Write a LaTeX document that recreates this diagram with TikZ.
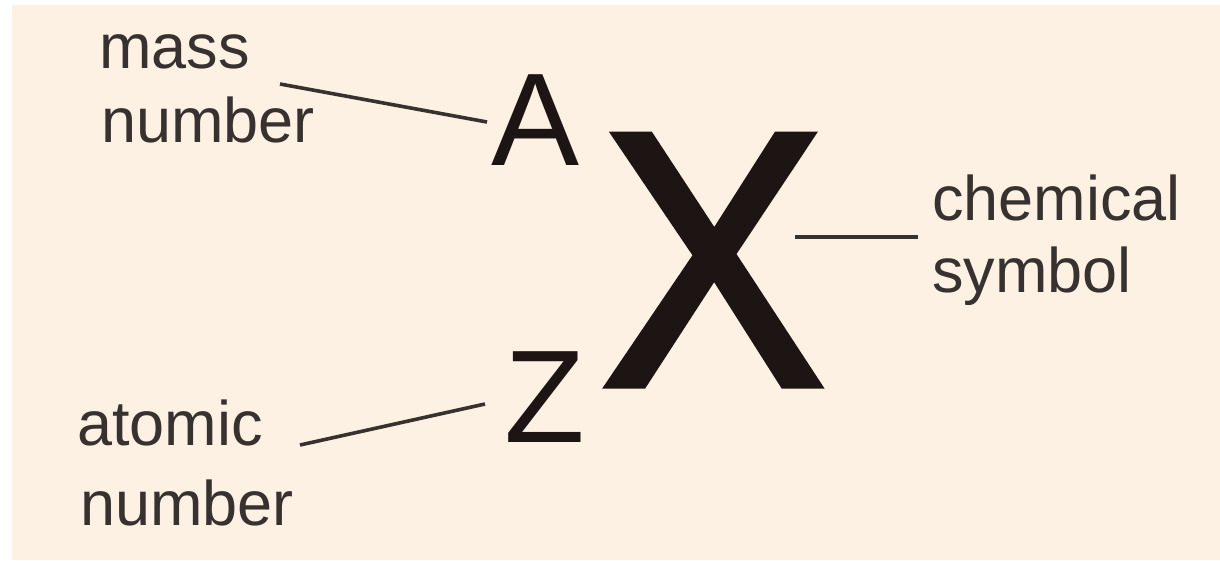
\documentclass[tikz,border=0pt]{standalone}
\usepackage{fontspec}
\setmainfont{Liberation Sans}
\newfontfamily\xfont[FakeBold=2]{Liberation Sans}
\definecolor{bgpeach}{HTML}{FDF1E4}
\definecolor{labelgray}{HTML}{37312F}
\definecolor{symblack}{HTML}{1C1513}
\begin{document}
\begin{tikzpicture}[x=1pt,y=-1pt,
  lbl/.style={anchor=base west,inner sep=0pt,text=labelgray,font=\fontsize{63}{74}\selectfont},
  sub/.style={anchor=base west,inner sep=0pt,text=symblack,font=\fontsize{132}{135}\selectfont},
  big/.style={anchor=base west,inner sep=0pt,text=symblack,font=\xfont\fontsize{363}{370}\selectfont},
  conn/.style={draw=labelgray,line width=3.6pt}]
\useasboundingbox (0,0) rectangle (1220,560);
\fill[white] (0,0) rectangle (1220,560);
\fill[bgpeach] (12,5) rectangle (1220,560);
% labels
\node[lbl] (mass1) at (99,68) {mass};
\node[lbl] (mass2) at (101,142) {number};
\node[lbl] (chem1) at (932,220) {chemical};
\node[lbl] (chem2) at (932,292) {symbol};
\node[lbl] (atom1) at (77,445) {atomic};
\node[lbl] (atom2) at (80,525) {number};
% symbols
\node[sub] (A) at (491,165) {A};
\node[sub] (Z) at (504,442) {Z};
\node[big] (X) at (601,385) {\scalebox{0.925}[1]{X}};
% connector ends
\coordinate (mA) at (280,84);
\coordinate (eA) at (487,122);
\coordinate (mZ) at (300,445);
\coordinate (eZ) at (485,404);
\coordinate (mX) at (795,237);
\coordinate (eX) at (918,237);
\draw[conn] (mA) -- (eA);
\draw[conn] (mZ) -- (eZ);
\draw[conn] (mX) -- (eX);
\end{tikzpicture}
\end{document}
